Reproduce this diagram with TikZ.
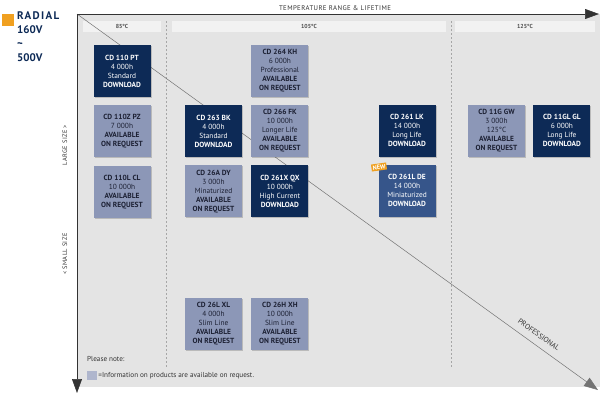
\documentclass[tikz,border=0pt]{standalone}
\usepackage{fontspec}
\setmainfont{PT Sans}
\newfontfamily\spaced[LetterSpace=12]{PT Sans}
\newfontfamily\wide[LetterSpace=6]{PT Sans}
\usetikzlibrary{positioning}
\usetikzlibrary{arrows.meta}
\usetikzlibrary{shadows}
\definecolor{darkblue}{HTML}{0D2A56}
\definecolor{midblue}{HTML}{36558A}
\definecolor{greyblue}{HTML}{8C97B7}
\definecolor{panelgrey}{HTML}{E4E4E4}
\definecolor{headgrey}{HTML}{F2F2F2}
\definecolor{tagorange}{HTML}{F0A020}
\definecolor{inkdark}{HTML}{1C2033}
\tikzset {
  node distance={8pt},
  % product boxes
  prod/.style = {minimum width=57pt, minimum height=52pt, inner sep=0pt, align=center,
    font=\fontsize{7.4}{9}\selectfont,
    drop shadow={shadow xshift=1pt, shadow yshift=-1pt, fill=black, opacity=0.18}},
  % download available
  dl/.style={prod, fill=darkblue, text=white},
  % new product
  newprod/.style={prod, fill=midblue, text=white},
  % only on request
  req/.style={prod, fill=greyblue, text=inkdark},
  % temperature headers
  head/.style={fill=headgrey, minimum height=11pt, inner sep=0pt, font=\fontsize{5.8}{6}\selectfont\bfseries, text=black!70},
  axis/.style={black!80, line width=0.6pt, -{Triangle[length=14pt,width=10pt]}},
  sep/.style={black!35, dashed, dash pattern=on 2pt off 2pt, line width=0.4pt},
  side/.style={font=\fontsize{6.4}{7}\selectfont\wide, text=black!80},
  note/.style={anchor=west, inner sep=0pt, text=black!80, font=\fontsize{7.2}{8}\selectfont},
}
\begin{document}
\begin{tikzpicture}[x=1pt, y=-1pt]
      \useasboundingbox (0,0) rectangle (600,400);
      \fill[panelgrey] (78,14) rectangle (600,387);

      % title
      \node[fill=tagorange, minimum size=12pt, inner sep=0pt] (sq) at (8,20) {};
      \node[anchor=north west, align=left, inner sep=0pt, text=darkblue, font=\fontsize{11}{14}\selectfont\bfseries] (title) at (17,11)
        {{\spaced RADIAL}\\160V\\\textasciitilde\\500V};

      % headers
      \node[head, minimum width=78pt] (h85) at (122,26) {85°C};
      \node[head, minimum width=274pt] (h105) at (309,26) {105°C};
      \node[head, minimum width=140pt] (h125) at (525,26) {125°C};
      \draw[sep] (166,21) -- (166,367);
      \draw[sep] (451,21) -- (451,367);

      % axes
      \coordinate (o) at (77,14);
      \coordinate (xend) at (599,14);
      \coordinate (yend) at (77,393);
      \coordinate (dend) at (598,390);
      \draw[black!55, line width=0.5pt, -{Triangle[length=14pt,width=10pt]}] (o) -- node[pos=0.875, above=4pt, sloped, text=black!80, font=\fontsize{7.4}{8}\selectfont] (prof) {PROFESSIONAL} (dend);
      \draw[axis] (o) -- (xend);
      \draw[axis] (o) -- (yend);
      \node[side, font=\fontsize{6.8}{7}\selectfont\wide] (temp) at (335,8) {TEMPERATURE RANGE \& LIFETIME};
      \node[side, rotate=90] (large) at (65,145) {LARGE SIZE >};
      \node[side, rotate=90] (small) at (65,254) {< SMALL SIZE};

      % 85 C
      \node[dl] (pt) at (122,71) {\textbf{CD 110 PT}\\4 000h\\Standard\\\textbf{DOWNLOAD}};
      \node[req] (pz) [below=of pt] {\textbf{CD 110Z PZ}\\7 000h\\\textbf{AVAILABLE}\\\textbf{ON REQUEST}};
      \node[req] (cl) [below=of pz] {\textbf{CD 110L CL}\\10 000h\\\textbf{AVAILABLE}\\\textbf{ON REQUEST}};

      % 105 C
      \node[dl] (bk) at (213.5,131) {\textbf{CD 263 BK}\\4 000h\\Standard\\\textbf{DOWNLOAD}};
      \node[req] (fk) [right=9pt of bk] {\textbf{CD 266 FK}\\10 000h\\Longer Life\\\textbf{AVAILABLE}\\\textbf{ON REQUEST}};
      \node[req] (kh) [above=of fk] {\textbf{CD 264 KH}\\6 000h\\Professional\\\textbf{AVAILABLE}\\\textbf{ON REQUEST}};
      \node[req] (dy) [below=of bk] {\textbf{CD 26A DY}\\3 000h\\Minaturized\\\textbf{AVAILABLE}\\\textbf{ON REQUEST}};
      \node[dl] (qx) [below=of fk] {\textbf{CD 261X QX}\\10 000h\\High Current\\\textbf{DOWNLOAD}};
      \node[req] (xl) at (213.5,323.5) {\textbf{CD 26L XL}\\4 000h\\Slim Line\\\textbf{AVAILABLE}\\\textbf{ON REQUEST}};
      \node[req] (xh) [right=9pt of xl] {\textbf{CD 26H XH}\\10 000h\\Slim Line\\\textbf{AVAILABLE}\\\textbf{ON REQUEST}};
      \node[dl] (lk) at (407,130.5) {\textbf{CD 261 LK}\\14 000h\\Long Life\\\textbf{DOWNLOAD}};
      \node[newprod] (de) [below=of lk] {\textbf{CD 261L DE}\\14 000h\\Miniaturized\\\textbf{DOWNLOAD}};
      \node[fill=tagorange, text=white, rotate=8, inner sep=1.3pt, font=\fontsize{6.2}{6}\selectfont\bfseries] (new) at (379,167) {NEW};

      % 125 C
      \node[req] (gw) at (496.5,130.5) {\textbf{CD 11G GW}\\3 000h\\125°C\\\textbf{AVAILABLE}\\\textbf{ON REQUEST}};
      \node[dl] (gl) [right=of gw] {\textbf{CD 11GL GL}\\6 000h\\Long Life\\\textbf{DOWNLOAD}};

      % note
      \node[note] (pnote) at (87,359) {Please note:};
      \node[fill=greyblue!70, minimum width=10pt, minimum height=9pt, inner sep=0pt] (key) at (92,375.5) {};
      \node[note] (keytext) [right=1pt of key] {=Information on products are available on request.};
\end{tikzpicture}
\end{document}
